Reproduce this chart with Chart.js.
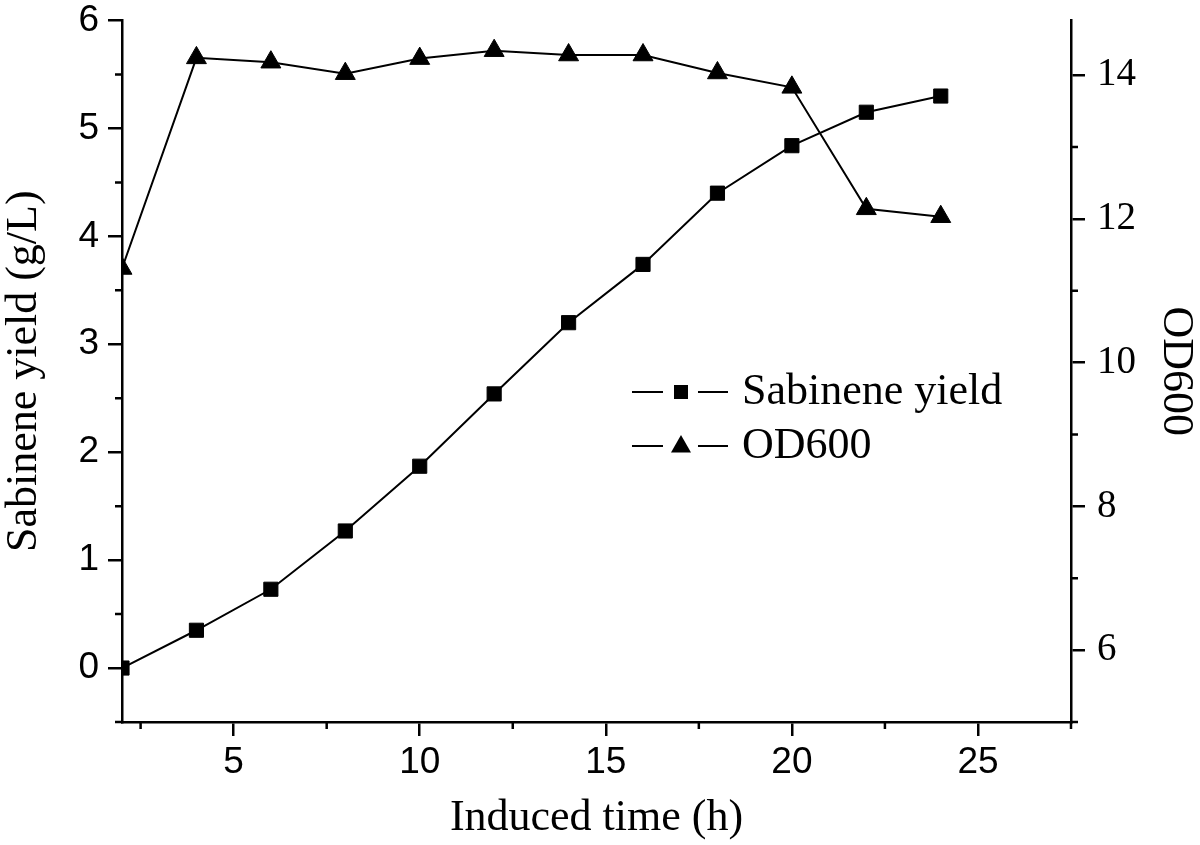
<!DOCTYPE html>
<html>
<head>
<meta charset="utf-8">
<title>Sabinene yield and OD600</title>
<script src="https://cdn.jsdelivr.net/npm/chart.js@4.4.0/dist/chart.umd.min.js"></script>
<style>
  html, body { margin: 0; padding: 0; background: #fff; }
  canvas { display: block; }
</style>
</head>
<body>
<canvas id="chart" width="1200" height="845"></canvas>
<script>
// Данные
const times = [2, 4, 6, 8, 10, 12, 14, 16, 18, 20, 22, 24];
const sabinene = [0, 0.35, 0.73, 1.27, 1.87, 2.54, 3.2, 3.74, 4.4, 4.84, 5.15, 5.3];
const od600 = [11.31, 14.24, 14.18, 14.02, 14.23, 14.34, 14.28, 14.28, 14.03, 13.83, 12.14, 12.03];

const xTicks = [5, 10, 15, 20, 25];
const xMinor = [2.5, 7.5, 12.5, 17.5, 22.5, 27.5];
const yTicks = [0, 1, 2, 3, 4, 5, 6];
const yMinor = [-0.5, 0.5, 1.5, 2.5, 3.5, 4.5, 5.5];
const y2Ticks = [6, 8, 10, 12, 14];
const y2Minor = [5, 7, 9, 11, 13];

const SANS = '"Liberation Sans", Arial, sans-serif';
const SERIF = '"Liberation Serif", "Times New Roman", serif';

function setTicks(values) {
    return scale => { scale.ticks = values.map(v => ({ value: v })); };
}

// Малые деления рисуем сами через шкалы Chart.js
const minorTicks = {
    id: 'minorTicks',
    afterDraw(chart) {
        const { ctx, chartArea: a } = chart;
        ctx.save();
        ctx.strokeStyle = '#000';
        ctx.lineWidth = 2.5;
        ctx.beginPath();
        xMinor.forEach(v => {
            const px = chart.scales.x.getPixelForValue(v);
            ctx.moveTo(px, a.bottom);
            ctx.lineTo(px, a.bottom + 7);
        });
        yMinor.forEach(v => {
            const py = chart.scales.y.getPixelForValue(v);
            ctx.moveTo(a.left, py);
            ctx.lineTo(a.left - 7, py);
        });
        y2Minor.forEach(v => {
            const py = chart.scales.y2.getPixelForValue(v);
            ctx.moveTo(a.right, py);
            ctx.lineTo(a.right + 7, py);
        });
        ctx.stroke();
        ctx.restore();
    }
};

// Легенда в стиле Origin: —■— подпись
const originLegend = {
    id: 'originLegend',
    afterDraw(chart) {
        const { ctx, chartArea: a } = chart;
        const x0 = a.left + (a.right - a.left) * 0.5374;
        const rows = [0.5296, 0.6066];
        ctx.save();
        chart.data.datasets.forEach((ds, i) => {
            const y = a.top + (a.bottom - a.top) * rows[i];
            ctx.strokeStyle = '#000';
            ctx.lineWidth = 2;
            ctx.beginPath();
            ctx.moveTo(x0, y); ctx.lineTo(x0 + 31, y);
            ctx.moveTo(x0 + 66, y); ctx.lineTo(x0 + 96, y);
            ctx.stroke();
            ctx.fillStyle = '#000';
            ctx.beginPath();
            const cx = x0 + 49;
            if (ds.pointStyle === 'rect') {
                ctx.rect(cx - 7, y - 7, 14, 14);
            } else {
                ctx.moveTo(cx, y - 11);
                ctx.lineTo(cx + 10, y + 6.5);
                ctx.lineTo(cx - 10, y + 6.5);
                ctx.closePath();
            }
            ctx.fill();
            ctx.font = '44px ' + SERIF;
            ctx.textBaseline = 'middle';
            ctx.textAlign = 'left';
            ctx.fillText(ds.label, x0 + 110, y);
        });
        ctx.restore();
    }
};

const axisGrid = { drawOnChartArea: false, drawTicks: true, tickLength: 14, color: '#000', lineWidth: 2.5 };
const axisBorder = { display: true, color: '#000', width: 2.5 };

new Chart(document.getElementById('chart').getContext('2d'), {
    type: 'line',
    data: {
        datasets: [{
            label: 'Sabinene yield',
            data: times.map((t, i) => ({ x: t, y: sabinene[i] })),
            yAxisID: 'y',
            borderColor: '#000',
            backgroundColor: '#000',
            borderWidth: 2,
            pointStyle: 'rect',
            pointRadius: 10,
            pointBorderWidth: 1,
            tension: 0
        }, {
            label: 'OD600',
            data: times.map((t, i) => ({ x: t, y: od600[i] })),
            yAxisID: 'y2',
            borderColor: '#000',
            backgroundColor: '#000',
            borderWidth: 2,
            pointStyle: 'triangle',
            pointRadius: 11.5,
            pointBorderWidth: 1,
            tension: 0
        }]
    },
    options: {
        responsive: false,
        animation: false,
        layout: { padding: { top: 20.5, left: 0, right: 0, bottom: 0 } },
        plugins: {
            legend: { display: false },
            tooltip: { enabled: false }
        },
        scales: {
            x: {
                type: 'linear',
                position: 'bottom',
                min: 2,
                max: 27.5,
                afterBuildTicks: setTicks(xTicks),
                grid: axisGrid,
                border: axisBorder,
                ticks: { color: '#000', font: { family: SANS, size: 37 }, padding: 5, maxRotation: 0 },
                title: {
                    display: true,
                    text: 'Induced time (h)',
                    color: '#000',
                    font: { family: SERIF, size: 44, lineHeight: 1.1 },
                    padding: { top: 0, bottom: 2 }
                },
                afterFit: s => { s.height = 123; s.paddingLeft = 0; s.paddingRight = 0; }
            },
            y: {
                type: 'linear',
                position: 'left',
                min: -0.5,
                max: 6,
                afterBuildTicks: setTicks(yTicks),
                grid: axisGrid,
                border: axisBorder,
                ticks: { color: '#000', font: { family: SANS, size: 37 }, padding: 9 },
                title: {
                    display: true,
                    text: 'Sabinene yield (g/L)',
                    color: '#000',
                    font: { family: SERIF, size: 44, lineHeight: 1.1 },
                    padding: 0
                },
                afterFit: s => { s.width = 122; s.paddingTop = 0; s.paddingBottom = 0; }
            },
            y2: {
                type: 'linear',
                position: 'right',
                min: 5,
                max: 14.76,
                afterBuildTicks: setTicks(y2Ticks),
                grid: axisGrid,
                border: axisBorder,
                ticks: { color: '#000', font: { family: SERIF, size: 39 }, padding: 12 },
                title: {
                    display: true,
                    text: 'OD600',
                    color: '#000',
                    font: { family: SERIF, size: 44, lineHeight: 1.1 },
                    padding: 0
                },
                afterFit: s => { s.width = 129; s.paddingTop = 0; s.paddingBottom = 0; }
            }
        }
    },
    plugins: [minorTicks, originLegend]
});
</script>
</body>
</html>
